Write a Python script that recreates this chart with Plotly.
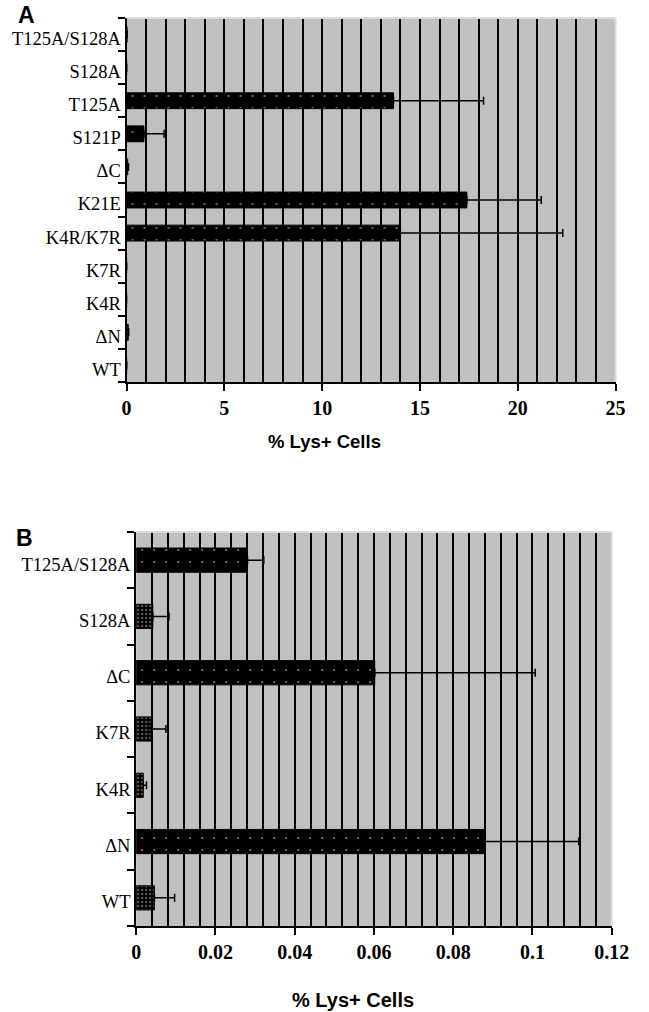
import plotly.graph_objects as go

# ---------------- data ----------------
cats_a = ["WT", "ΔN", "K4R", "K7R", "K4R/K7R", "K21E", "ΔC", "S121P", "T125A", "S128A", "T125A/S128A"]
vals_a = [0.0046, 0.088, 0.0018, 0.0038, 14.0, 17.4, 0.060, 0.89, 13.65, 0.0042, 0.028]
err_a = [0.0051, 0.0237, 0.0008, 0.0037, 8.3, 3.8, 0.0405, 1.03, 4.6, 0.0041, 0.0041]

cats_b = ["WT", "ΔN", "K4R", "K7R", "ΔC", "S128A", "T125A/S128A"]
vals_b = [0.0046, 0.088, 0.0018, 0.0038, 0.0602, 0.0042, 0.0281]
err_b = [0.0051, 0.0237, 0.0008, 0.0037, 0.0405, 0.0041, 0.0041]

ticks_a = [0, 5, 10, 15, 20, 25]
ticks_b = [0, 0.02, 0.04, 0.06, 0.08, 0.1, 0.12]
ticktext_b = ["0", "0.02", "0.04", "0.06", "0.08", "0.1", "0.12"]

xtitle = "% Lys+ Cells"

# ---------------- figure ----------------
W, H = 649, 1012
fig = go.Figure()

def pattern_for(vals, small):
    shapes, sizes, sol, fg = [], [], [], []
    for v in vals:
        if v < small:
            shapes.append("."); sizes.append(4); sol.append(0.3); fg.append("#b0b0b0")
        else:
            shapes.append("."); sizes.append(12); sol.append(0.025); fg.append("white")
    return dict(shape=shapes, size=sizes, solidity=sol, fgcolor=fg, bgcolor="black")

fig.add_trace(go.Bar(
    orientation="h", x=vals_a, y=cats_a, xaxis="x", yaxis="y", width=0.48,
    marker=dict(color="black", line=dict(color="black", width=1),
                pattern=pattern_for(vals_a, 0.5)),
    error_x=dict(type="data", array=err_a, arrayminus=[0] * len(err_a), symmetric=False,
                 color="black", thickness=1.5, width=4),
    showlegend=False,
))
fig.add_trace(go.Bar(
    orientation="h", x=vals_b, y=cats_b, xaxis="x2", yaxis="y2", width=0.43,
    marker=dict(color="black", line=dict(color="black", width=1),
                pattern=pattern_for(vals_b, 0.01)),
    error_x=dict(type="data", array=err_b, arrayminus=[0] * len(err_b), symmetric=False,
                 color="black", thickness=1.5, width=4),
    showlegend=False,
))

xfont = dict(family="Liberation Serif", size=20, color="black", weight="bold")
yfont = dict(family="Liberation Serif", size=18.5, color="black")

def xax(domain, rng, tickvals, ticktext, minor_dtick, anchor):
    return dict(
        domain=domain, range=rng, anchor=anchor,
        tickmode="array", tickvals=tickvals, ticktext=ticktext,
        showgrid=True, gridcolor="black", gridwidth=1.8,
        minor=dict(dtick=minor_dtick, tick0=0, showgrid=True, gridcolor="black",
                   gridwidth=1.8, ticks=""),
        showline=True, linecolor="black", linewidth=2,
        ticks="outside", ticklen=7, tickwidth=2, tickcolor="black",
        tickfont=xfont, zeroline=False, fixedrange=True,
    )

def yax(domain, cats, anchor):
    return dict(
        domain=domain, anchor=anchor, type="category",
        categoryorder="array", categoryarray=cats,
        range=[-0.5, len(cats) - 0.5],
        tickson="boundaries", ticks="outside", ticklen=7, tickwidth=2, tickcolor="black",
        showline=True, linecolor="black", linewidth=2, showgrid=False,
        tickfont=yfont, fixedrange=True, ticklabelshift=4,
    )

fig.update_layout(
    width=W, height=H,
    margin=dict(l=0, r=0, t=0, b=0),
    paper_bgcolor="white", plot_bgcolor="#c0c0c0",
    xaxis=xax([126 / W, 633 / W], [0, 25], ticks_a, [str(t) for t in ticks_a], 1, "y"),
    yaxis=yax([1 - 382 / H, 1 - 18 / H], cats_a, "x"),
    xaxis2=xax([136 / W, 629 / W], [0, 0.12], ticks_b, ticktext_b, 0.004, "y2"),
    yaxis2=yax([1 - 926 / H, 1 - 532 / H], cats_b, "x2"),
)

# light frame at top and right edge
for xr, yr in (("x domain", "y domain"), ("x2 domain", "y2 domain")):
    fig.add_shape(type="line", xref=xr, yref=yr, x0=0, x1=1, y0=1, y1=1,
                  line=dict(color="#dcdcdc", width=2), layer="above")
    fig.add_shape(type="line", xref=xr, yref=yr, x0=1, x1=1, y0=0, y1=1,
                  line=dict(color="#dcdcdc", width=2), layer="above")

fig.add_annotation(text=xtitle, xref="paper", yref="paper", x=331 / W, y=1 - 441 / H,
                   showarrow=False, xanchor="center", yanchor="middle",
                   font=dict(family="Liberation Sans", size=18.5, color="black", weight="bold"))
fig.add_annotation(text=xtitle, xref="paper", yref="paper", x=361 / W, y=1 - 1000 / H,
                   showarrow=False, xanchor="center", yanchor="middle",
                   font=dict(family="Liberation Sans", size=20, color="black", weight="bold"))

letter_font = dict(family="Liberation Sans", size=23, color="black", weight="bold")
fig.add_annotation(text="A", xref="paper", yref="paper", x=11 / W, y=1 - 15 / H,
                   showarrow=False, font=letter_font, xanchor="left", yanchor="middle")
fig.add_annotation(text="B", xref="paper", yref="paper", x=9 / W, y=1 - 538 / H,
                   showarrow=False, font=letter_font, xanchor="left", yanchor="middle")

fig.write_html("out.html", config={"displayModeBar": False})
